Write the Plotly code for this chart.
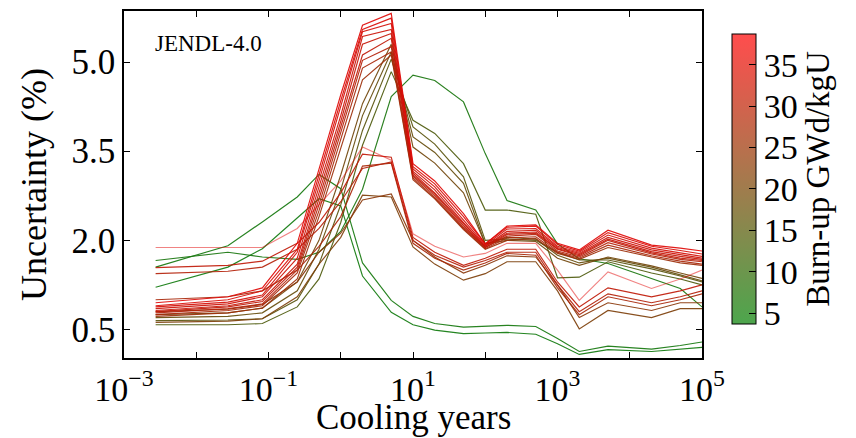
import plotly.graph_objects as go

# Cooling time grid (years)
cooling_years = [0.00274, 0.0274, 0.0822, 0.25, 0.5, 1, 2, 5, 10, 20, 50, 100,
                 200, 500, 1000, 2000, 5000, 20000, 50000, 100000]

# Burn-up (GWd/kgU) of each curve
burnups = [4.2, 4.8, 5.5,
           14, 16, 18, 20,
           22, 24,
           38.5, 33, 31, 29,
           38, 37, 36, 35, 34, 33, 31, 29, 27]

# Uncertainty (%) curves, one per burn-up
u_green_b = [1.21, 1.55, 1.86, 2.37, 2.70, 2.58, 1.40, 0.79, 0.58, 0.49, 0.43, 0.44, 0.45, 0.42, 0.26, 0.08, 0.16, 0.13, 0.17, 0.20]
u_green_a = [1.55, 1.91, 2.31, 2.73, 3.11, 2.87, 1.62, 0.99, 0.72, 0.60, 0.54, 0.55, 0.57, 0.55, 0.35, 0.13, 0.22, 0.17, 0.23, 0.29]
u_green_c = [1.66, 1.80, 1.72, 1.68, 1.80, 2.15, 2.86, 4.42, 4.78, 4.69, 4.33, 3.46, 2.67, 2.51, 1.94, 1.69, 1.61, 1.35, 1.19, 0.88]
u_olive_1 = [0.58, 0.58, 0.60, 0.88, 1.35, 2.30, 3.60, 4.84, 4.02, 3.80, 3.29, 2.51, 2.51, 2.44, 1.37, 1.38, 1.64, 1.45, 1.35, 1.25]
u_olive_2 = [0.65, 0.66, 0.68, 1.00, 1.60, 2.60, 3.85, 5.05, 3.91, 3.62, 3.07, 2.00, 2.02, 2.00, 1.80, 1.67, 1.67, 1.52, 1.40, 1.30]
u_olive_3 = [0.70, 0.72, 0.78, 1.15, 1.85, 2.85, 4.10, 5.17, 3.74, 3.48, 2.96, 1.94, 2.05, 2.02, 1.75, 1.62, 1.70, 1.55, 1.42, 1.32]
u_olive_4 = [0.75, 0.78, 0.86, 1.30, 2.00, 3.10, 4.30, 5.30, 3.57, 3.30, 2.80, 1.94, 2.00, 1.98, 1.70, 1.58, 1.72, 1.57, 1.45, 1.36]
u_brown_1 = [0.62, 0.64, 0.68, 1.05, 1.60, 2.05, 2.76, 2.73, 1.89, 1.60, 1.33, 1.44, 1.64, 1.64, 1.15, 0.51, 0.82, 0.70, 0.85, 0.85]
u_brown_2 = [0.80, 0.84, 0.92, 1.30, 1.80, 2.12, 2.68, 2.78, 2.00, 1.72, 1.45, 1.58, 1.74, 1.72, 1.25, 0.70, 0.95, 0.82, 0.95, 0.95]
u_low_1 = [1.88, 1.88, 1.88, 2.20, 2.60, 3.00, 3.57, 3.35, 2.11, 1.90, 1.72, 1.78, 1.95, 1.95, 1.50, 0.99, 1.47, 1.19, 1.35, 1.50]
u_low_2 = [1.54, 1.58, 1.65, 1.95, 2.30, 2.80, 3.45, 3.40, 2.05, 1.80, 1.58, 1.70, 1.85, 1.85, 1.30, 0.88, 1.20, 1.05, 1.15, 1.25]
u_low_3 = [1.44, 1.48, 1.55, 1.85, 2.20, 2.65, 3.21, 3.32, 2.00, 1.75, 1.55, 1.66, 1.80, 1.80, 1.25, 0.80, 1.10, 0.95, 1.05, 1.15]
u_low_4 = [1.00, 1.05, 1.15, 1.50, 1.90, 2.40, 3.25, 3.30, 1.95, 1.70, 1.50, 1.62, 1.78, 1.75, 1.20, 0.75, 1.05, 0.90, 1.00, 1.10]
u_red_1 = [0.95, 1.05, 1.20, 1.95, 3.20, 4.45, 5.62, 5.82, 3.29, 3.00, 2.45, 1.94, 2.24, 2.26, 1.95, 1.84, 2.17, 1.92, 1.87, 1.82]
u_red_2 = [0.90, 1.00, 1.15, 1.85, 3.10, 4.35, 5.55, 5.74, 3.24, 2.95, 2.40, 1.94, 2.22, 2.24, 1.93, 1.82, 2.13, 1.90, 1.83, 1.77]
u_red_3 = [0.88, 0.96, 1.08, 1.80, 3.00, 4.25, 5.51, 5.65, 3.20, 2.90, 2.35, 1.92, 2.19, 2.20, 1.90, 1.80, 2.09, 1.87, 1.79, 1.73]
u_red_4 = [0.85, 0.93, 1.05, 1.70, 2.90, 4.10, 5.43, 5.55, 3.16, 2.85, 2.30, 1.90, 2.15, 2.17, 1.88, 1.78, 2.05, 1.84, 1.76, 1.70]
u_red_5 = [0.82, 0.90, 1.00, 1.60, 2.80, 4.00, 5.30, 5.48, 3.13, 2.80, 2.28, 1.90, 2.12, 2.14, 1.86, 1.76, 2.02, 1.81, 1.73, 1.68]
u_red_6 = [0.80, 0.88, 0.97, 1.55, 2.70, 3.90, 5.12, 5.40, 3.10, 2.78, 2.25, 1.88, 2.10, 2.12, 1.85, 1.74, 2.00, 1.79, 1.70, 1.66]
u_red_7 = [0.78, 0.85, 0.93, 1.50, 2.60, 3.80, 5.03, 5.26, 3.08, 2.75, 2.22, 1.88, 2.07, 2.10, 1.82, 1.72, 1.96, 1.77, 1.68, 1.64]
u_red_8 = [0.75, 0.82, 0.90, 1.45, 2.50, 3.70, 4.90, 5.17, 3.05, 2.72, 2.20, 1.86, 2.04, 2.06, 1.80, 1.70, 1.92, 1.74, 1.65, 1.60]
u_red_9 = [0.72, 0.78, 0.86, 1.35, 2.40, 3.55, 4.70, 5.12, 3.02, 2.70, 2.18, 1.85, 2.00, 2.03, 1.78, 1.68, 1.88, 1.72, 1.62, 1.58]

curves = [u_green_b, u_green_a, u_green_c,
          u_olive_1, u_olive_2, u_olive_3, u_olive_4,
          u_brown_1, u_brown_2,
          u_low_1, u_low_2, u_low_3, u_low_4,
          u_red_1, u_red_2, u_red_3, u_red_4, u_red_5, u_red_6, u_red_7, u_red_8, u_red_9]

x_tick_vals = [1e-3, 1e-2, 1e-1, 1, 10, 1e2, 1e3, 1e4, 1e5]
x_tick_text = ["10<sup>−3</sup>", "", "10<sup>−1</sup>", "", "10<sup>1</sup>", "", "10<sup>3</sup>", "", "10<sup>5</sup>"]
y_tick_vals = [0.5, 2.0, 3.5, 5.0]
cbar_ticks = [5, 10, 15, 20, 25, 30, 35]

BU_MIN, BU_MAX = 3.7, 38.7
GREEN = (15, 125, 15)
RED = (228, 8, 8)
FONT = "Liberation Serif"


def mix(t, alpha=None, lo=GREEN, hi=RED):
    r = lo[0] + (hi[0] - lo[0]) * t
    g = lo[1] + (hi[1] - lo[1]) * t
    b = lo[2] + (hi[2] - lo[2]) * t
    if alpha is None:
        return f"rgb({r:.0f},{g:.0f},{b:.0f})"
    r = r * alpha + 255 * (1 - alpha)
    g = g * alpha + 255 * (1 - alpha)
    b = b * alpha + 255 * (1 - alpha)
    return f"rgb({r:.0f},{g:.0f},{b:.0f})"


fig = go.Figure()
order = sorted(range(len(burnups)), key=lambda i: burnups[i])
for i in order:
    t = (burnups[i] - BU_MIN) / (BU_MAX - BU_MIN)
    t = min(max(t, 0), 1)
    faint = burnups[i] > 38.2
    fig.add_trace(go.Scatter(
        x=cooling_years, y=curves[i], mode="lines",
        line=dict(color=mix(t), width=1.15), opacity=0.5 if faint else 0.92,
        showlegend=False, hoverinfo="skip"))

cscale = [[k / 10, mix(k / 10, 0.7, (0, 128, 0), (255, 0, 0))] for k in range(11)]
fig.add_trace(go.Scatter(
    x=[None], y=[None], mode="markers", showlegend=False,
    marker=dict(color=[BU_MIN], cmin=BU_MIN, cmax=BU_MAX, colorscale=cscale,
                showscale=True,
                colorbar=dict(
                    x=1.052, xanchor="left", xpad=0, ypad=0,
                    y=0.516, yanchor="middle", len=0.836, lenmode="fraction",
                    thickness=24, thicknessmode="pixels",
                    outlinecolor="black", outlinewidth=1,
                    tickvals=cbar_ticks, ticks="inside", ticklen=7,
                    tickcolor="black", tickprefix=" ",
                    tickfont=dict(family=FONT, size=34, color="black"),
                    title=dict(text="Burn-up GWd/kgU", side="right",
                               font=dict(family=FONT, size=33, color="black")),
                ))))

fig.add_annotation(text="JENDL-4.0", xref="paper", yref="paper",
                   x=0.05, y=0.905, xanchor="left", yanchor="middle",
                   showarrow=False,
                   font=dict(family=FONT, size=23, color="black"))

# x-axis title placed as an annotation so it can sit as low as in the original
fig.add_annotation(text="Cooling years", xref="paper", yref="paper",
                   x=0.5, y=-0.171, xanchor="center", yanchor="middle",
                   showarrow=False,
                   font=dict(family=FONT, size=35, color="black"))

fig.update_xaxes(type="log", range=[-3, 5], tickvals=x_tick_vals,
                 ticktext=x_tick_text, ticks="inside", ticklen=6,
                 tickcolor="black", showline=True, linecolor="black",
                 linewidth=1.5, mirror="ticks", showgrid=False, zeroline=False,
                 automargin=False,
                 tickfont=dict(family=FONT, size=34, color="black"))
fig.update_yaxes(range=[0.02, 5.86], tickvals=y_tick_vals, tickformat=".1f",
                 ticks="inside", ticklen=6, tickcolor="black", showline=True,
                 linecolor="black", linewidth=1.5, mirror="ticks",
                 showgrid=False, zeroline=False, automargin=False,
                 tickfont=dict(family=FONT, size=35, color="black"),
                 title=dict(text="Uncertainty (%)", standoff=14,
                            font=dict(family=FONT, size=36, color="black")))

fig.update_layout(width=856, height=438,
                  margin=dict(l=124, r=154, t=11, b=80),
                  plot_bgcolor="white", paper_bgcolor="white")

fig.write_html("out.html")
